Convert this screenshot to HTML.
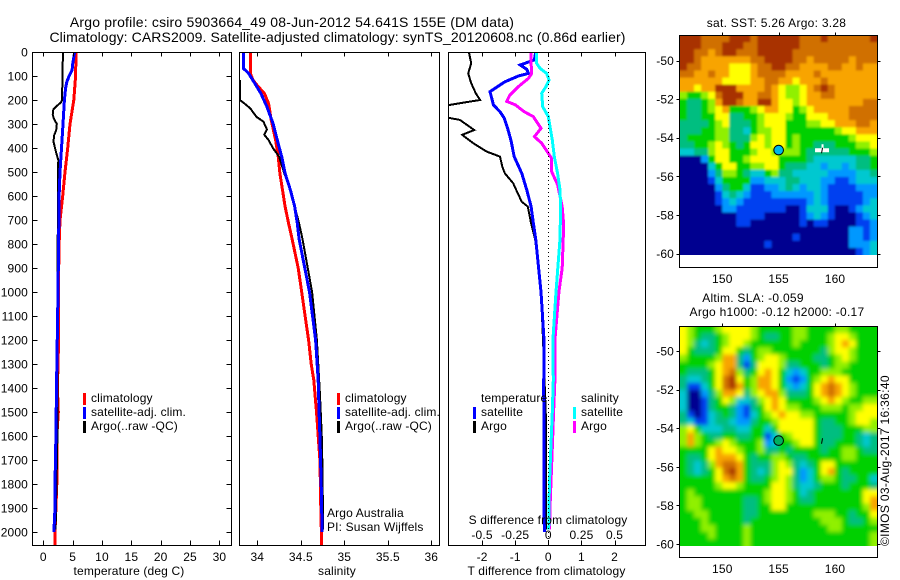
<!DOCTYPE html>
<html>
<head>
<meta charset="utf-8">
<title>Argo profile</title>
<style>
html,body{margin:0;padding:0;background:#fff;}
svg{display:block;}
text{font-family:"Liberation Sans",sans-serif;font-size:12px;fill:#000;letter-spacing:0.15px;}
</style>
</head>
<body>
<svg id="chart" width="900" height="580" viewBox="0 0 900 580" xmlns="http://www.w3.org/2000/svg">
<defs>
<filter id="soft" x="-5%" y="-5%" width="110%" height="110%"><feGaussianBlur stdDeviation="2"/></filter>
<filter id="soft-sst" x="-5%" y="-5%" width="110%" height="110%"><feGaussianBlur stdDeviation="1"/></filter>
<clipPath id="clip-sla"><rect x="680" y="326" width="197" height="220"/></clipPath>
<clipPath id="clip-sst"><rect x="680" y="35" width="197" height="220"/></clipPath>
<clipPath id="clip-t"><rect x="33" y="52" width="198" height="493"/></clipPath>
<clipPath id="clip-s"><rect x="240" y="52" width="199" height="493"/></clipPath>
<clipPath id="clip-d"><rect x="449" y="52" width="196" height="493"/></clipPath>
</defs>
<text x="292" y="27" text-anchor="middle" style="font-size:14px;letter-spacing:0.19px">Argo profile: csiro 5903664_49 08-Jun-2012 54.641S 155E (DM data)</text>
<text x="337.5" y="42" text-anchor="middle" style="font-size:14px;letter-spacing:0.1px">Climatology: CARS2009. Satellite-adjusted climatology: synTS_20120608.nc (0.86d earlier)</text>
<g id="root"></g>
</svg>
<script>
// ---- profile data ----
const tempClimDepth = [0,100,200,300,400,500,600,700,800,1000,1200,1400,1500,1600,1700,1800,1900,2000,2054];
const tempClim = [5.57,5.5,5.2,4.55,4.15,3.7,3.3,2.85,2.7,2.55,2.6,2.4,2.55,2.3,2.3,2.3,2.15,2.0,2.0];
const tempSatDepth = [0,50,75,100,125,150,200,300,400,500,600,800,1000,1400,1600,1800,1900,2000];
const tempSat = [5.35,5.0,4.9,4.4,4.0,3.8,3.6,3.35,3.1,2.85,2.7,2.6,2.5,2.25,2.15,2.0,2.0,1.8];
const tempArgoDepth = [0,50,100,200,210,225,240,260,275,300,325,350,375,400,425,450,500,600,800,1000,1600,1990];
const tempArgo = [3.35,3.3,3.25,3.2,3.0,2.3,1.7,1.6,1.75,2.3,2.2,1.8,1.75,2.0,2.25,2.55,2.5,2.5,2.45,2.4,2.4,2.1];

const salClimDepth = [0,89,117,144,172,214,283,367,436,506,575,644,714,779,900,1000,1100,1200,1300,1367,1500,1600,1700,1800,1900,2054];
const salClim = [33.92,33.92,33.95,34.01,34.08,34.13,34.16,34.21,34.24,34.26,34.29,34.32,34.36,34.40,34.47,34.51,34.55,34.59,34.62,34.65,34.68,34.70,34.72,34.725,34.73,34.74];
const salSatDepth = [0,60,68,89,130,172,228,297,367,436,506,575,644,714,779,1000,1200,1367,1500,1600,1800,2000];
const salSat = [33.84,33.84,33.84,33.90,33.97,34.04,34.11,34.18,34.23,34.28,34.32,34.38,34.43,34.46,34.48,34.60,34.67,34.70,34.71,34.72,34.735,34.745];
const salArgoDepth = [117,200,214,235,270,290,322,345,367,401,436,506,575,644,714,779,1000,1200,1423,1590,1757,1990];
const salArgo = [33.8,33.8,33.85,33.92,33.99,34.07,34.11,34.08,34.13,34.18,34.25,34.31,34.38,34.43,34.48,34.52,34.63,34.685,34.72,34.74,34.75,34.755];

const dTArgoDepth = [0,47,89,130,172,200,210,228,272,283,325,345,380,415,436,478,506,547,589,624,644,714,779,1000,1200,1533,1700,1990];
const dTArgo = [-2.4,-2.33,-2.42,-2.33,-2.19,-2.06,-2.52,-3.3,-3.1,-2.67,-2.24,-2.6,-2.27,-1.86,-1.46,-1.39,-1.31,-1.06,-0.92,-0.8,-0.62,-0.52,-0.4,-0.22,-0.16,-0.07,-0.07,-0.07];
const dTSatDepth = [0,33,54,72,89,100,124,165,220,249,276,318,367,436,506,575,644,714,779,1000,1200,1400,1600,1800,2000];
const dTSat = [-0.38,-0.42,-0.85,-0.65,-0.6,-0.9,-1.31,-1.76,-1.66,-1.46,-1.33,-1.23,-1.13,-1.03,-0.8,-0.65,-0.52,-0.45,-0.38,-0.22,-0.13,-0.14,-0.13,-0.13,-0.12];
const dSArgoDepth = [0,47,89,110,144,179,206,220,249,269,318,353,380,422,443,498,553,644,700,768,900,1000,1200,1367,1500,1650,1800,1900,1990];
const dSArgo = [-0.13,-0.13,-0.125,-0.15,-0.226,-0.29,-0.314,-0.25,-0.18,-0.113,-0.055,-0.105,-0.05,0,0.025,0.025,0.07,0.105,0.113,0.113,0.105,0.08,0.05,0.05,0.04,0.03,0.02,0.013,0.01];
const dSSatDepth = [0,47,68,89,117,144,172,228,269,367,436,506,575,644,779,1000,1200,1367,1500,1667,1800,1990];
const dSSat = [-0.088,-0.088,-0.063,-0.012,0.005,-0.017,-0.05,-0.042,0,0.03,0.045,0.07,0.088,0.093,0.088,0.058,0.035,0.038,0.03,0.018,0.008,0.003];

// ---- tick labels ----
const depthTicks = [0,100,200,300,400,500,600,700,800,900,1000,1100,1200,1300,1400,1500,1600,1700,1800,1900,2000];
const tempTicks = [0,5,10,15,20,25,30];
const salTicks = [34,34.5,35,35.5,36];
const dTTicks = [-2,-1,0,1,2];
const dSTicks = [-0.5,-0.25,0,0.25,0.5];
const lonTicks = [150,155,160];
const latTicks = [-50,-52,-54,-56,-58,-60];

// ---- map data: colour level per cell (0 = coldest/lowest ... 10 = warmest/highest) ----
const mapPalette = ['#000090','#0040f0','#0098ff','#00c8d0','#00be80','#00d000','#90f000','#ffff00','#f8a400','#d07000','#a83000'];
const sstRows = [
[10,10,10,9,9,9,9,10,10,10,9,10,10,10,10,10,10,9,9,9,10,9,9,9,9,9,9,10],
[10,10,10,9,9,9,10,10,10,9,9,10,10,10,10,10,10,9,9,9,9,9,9,9,9,9,9,9],
[10,10,9,9,8,9,10,10,9,9,9,10,10,10,10,10,9,9,9,9,9,9,9,9,9,9,9,9],
[10,10,9,8,8,8,8,8,8,8,9,9,10,10,10,10,9,9,8,9,9,9,9,9,8,9,9,9],
[10,9,9,8,8,8,8,7,7,7,8,9,9,10,10,9,9,8,8,8,8,9,9,8,8,9,8,8],
[9,9,8,8,9,8,8,7,7,7,8,9,9,9,9,8,8,8,8,9,8,8,8,8,8,8,8,8],
[8,8,8,8,8,8,7,7,7,7,8,8,9,9,8,8,7,8,8,8,9,8,8,8,8,8,8,8],
[8,8,7,8,8,10,10,10,8,8,8,8,9,8,7,6,6,7,8,9,10,9,8,8,8,8,8,8],
[6,5,5,6,7,9,10,10,10,8,8,9,9,8,7,6,6,7,8,8,9,9,8,8,8,8,8,8],
[5,4,4,5,6,8,10,10,9,8,8,10,10,8,7,7,6,7,8,8,8,8,8,8,8,8,9,9],
[5,4,4,5,6,7,8,5,5,5,6,7,8,8,7,7,5,6,7,8,8,8,8,8,9,9,9,9],
[5,4,4,5,5,7,7,4,4,5,5,6,7,7,7,6,5,5,7,7,7,8,8,8,9,9,9,9],
[4,4,4,4,5,6,7,4,4,4,5,6,7,7,7,5,5,5,6,6,7,7,8,8,8,9,9,8],
[4,4,4,5,5,6,6,4,4,3,5,6,6,7,7,5,5,5,5,5,5,5,6,7,7,8,8,8],
[4,5,5,5,5,6,6,4,4,4,6,7,6,7,7,5,6,5,5,5,5,5,5,5,6,7,7,7],
[4,4,5,5,6,7,6,5,4,5,7,7,6,7,7,5,6,5,5,4,4,4,5,5,5,6,6,7],
[3,3,4,4,6,7,7,5,5,5,6,7,7,6,6,6,6,5,4,4,4,4,4,4,5,5,5,6],
[0,0,0,2,5,7,7,5,5,6,7,7,7,7,5,5,5,5,4,3,3,3,3,3,3,4,4,5],
[0,0,0,0,3,5,7,7,5,5,6,6,7,7,5,4,4,4,3,3,2,3,3,2,3,4,4,5],
[0,0,0,0,2,4,6,6,5,4,3,3,5,6,4,4,3,3,3,3,3,2,2,2,2,3,3,4],
[0,0,0,0,1,3,5,5,5,5,2,2,3,3,3,4,4,3,3,3,2,2,1,1,2,3,3,3],
[0,0,0,0,0,2,4,5,5,3,1,1,2,2,3,4,3,2,3,3,2,1,1,1,1,2,2,2],
[0,0,0,0,0,1,3,4,3,2,1,1,1,2,2,2,2,2,2,3,2,1,1,1,1,1,2,2],
[0,0,0,0,0,1,2,3,2,1,1,1,1,1,1,1,1,1,2,3,2,1,1,1,1,1,2,3],
[0,0,0,0,0,0,2,2,1,1,1,1,1,1,1,0,0,1,3,3,3,1,0,0,1,2,3,3],
[0,0,0,0,0,0,0,0,1,1,1,1,0,0,0,0,0,1,2,3,2,1,0,0,0,1,2,3],
[0,0,0,0,0,0,0,0,1,1,0,0,0,0,0,0,0,1,0,1,1,0,0,0,0,1,1,2],
[0,0,0,0,0,0,0,0,0,0,0,0,0,0,0,0,0,0,0,0,0,0,0,0,2,2,1,2],
[0,0,0,0,0,0,0,0,0,0,0,0,0,0,0,0,1,0,0,0,0,0,0,0,2,2,1,2],
[0,0,0,0,0,0,0,0,0,0,0,0,1,0,0,0,0,0,0,0,0,0,0,0,2,2,2,3],
[0,0,0,0,0,0,0,0,0,0,0,0,0,0,0,0,0,0,0,0,0,0,0,0,0,1,2,3]
];
const slaRows = [
[7,6,5,5,5,6,7,7,7,7,6,5,5,5,5,5,6,6,5,5,5,5,6,6,5,5,5,5],
[7,6,5,4,4,5,6,7,7,7,6,5,4,4,5,5,6,6,5,5,5,6,7,7,6,5,5,5],
[7,6,4,3,4,5,6,7,7,6,5,5,5,5,5,5,6,5,5,5,5,6,7,8,7,5,5,5],
[7,5,4,4,4,5,7,7,5,4,5,6,6,5,5,5,5,5,5,5,4,6,7,7,6,5,5,5],
[6,5,5,5,5,6,8,8,4,2,5,6,7,7,6,5,5,5,5,4,4,5,6,7,6,5,5,5],
[5,5,5,5,6,7,8,8,4,1,4,7,7,7,6,4,4,5,5,5,4,5,6,6,5,5,5,5],
[5,4,4,4,5,7,8,9,6,4,5,7,8,7,5,3,2,3,5,5,6,6,6,5,5,5,5,5],
[4,3,3,4,5,7,9,10,7,5,6,8,8,7,5,2,1,2,5,6,7,8,7,7,5,5,5,5],
[4,1,1,3,5,7,9,10,8,5,6,8,8,7,5,3,2,3,5,7,8,9,8,7,6,5,5,5],
[3,0,0,2,4,6,8,8,7,4,6,7,8,8,6,4,4,4,5,7,8,9,8,7,6,5,5,5],
[3,0,0,1,4,5,7,6,3,3,4,6,7,8,7,5,5,5,5,6,7,8,7,6,5,5,6,6],
[3,0,0,1,4,5,5,4,2,1,4,5,7,8,7,6,6,5,5,5,6,6,6,5,6,6,7,7],
[4,1,0,1,3,4,5,4,2,1,3,5,6,7,8,7,7,6,6,5,5,5,5,5,6,7,7,7],
[4,3,1,1,3,4,4,3,2,2,4,5,5,6,7,7,7,7,7,5,4,4,5,5,6,7,7,6],
[6,7,5,3,3,3,4,4,3,3,5,5,3,5,7,7,7,7,7,5,4,4,4,5,5,5,6,6],
[6,8,6,5,4,4,5,5,4,4,5,5,1,3,5,6,7,7,7,5,4,4,4,5,5,4,3,4],
[6,8,6,5,5,6,7,6,5,5,5,6,2,3,5,5,6,7,7,5,4,4,5,5,5,4,3,4],
[5,5,5,5,7,8,7,7,6,5,5,6,4,4,5,4,5,5,5,5,4,5,5,6,6,5,4,4],
[5,4,4,5,7,8,8,8,7,5,4,5,5,6,6,5,4,4,5,5,5,5,5,6,6,5,5,5],
[5,4,3,4,6,8,9,9,8,5,4,4,4,6,7,6,4,3,4,5,7,7,5,5,5,5,5,5],
[5,4,3,4,5,7,9,10,8,5,4,3,4,6,7,7,4,2,3,5,7,8,5,4,5,5,5,5],
[5,5,5,5,5,7,8,9,8,5,4,4,5,6,7,6,4,2,3,5,6,6,5,4,4,5,5,3],
[5,5,5,5,5,6,7,7,6,5,5,5,5,7,7,6,4,3,3,4,5,5,5,4,5,5,5,4],
[5,6,5,5,5,5,5,5,5,5,5,5,6,7,7,6,5,3,4,5,5,5,5,5,5,5,7,7],
[5,6,6,5,5,5,5,5,5,4,4,5,6,7,7,6,5,4,4,5,5,5,5,5,5,5,7,8],
[5,6,6,5,5,5,5,5,5,4,4,5,5,7,7,5,5,5,5,5,5,5,5,5,5,5,6,8],
[5,5,6,6,5,5,5,5,5,4,4,5,5,5,5,5,5,5,5,6,6,6,5,5,4,5,5,7],
[5,5,5,6,5,5,5,5,5,4,5,5,5,5,5,5,5,5,5,5,6,6,6,5,4,4,5,6],
[5,5,5,6,6,5,5,5,5,6,5,5,5,5,5,5,5,5,5,5,5,6,6,5,5,5,5,5],
[5,5,5,5,6,5,5,5,5,6,5,5,5,5,5,5,5,5,5,5,5,5,5,5,5,5,5,6],
[5,5,5,5,5,5,5,5,5,6,5,5,5,5,5,5,5,5,5,5,5,5,5,5,5,5,5,6]
];
const floatLon = 155.0;
const floatLat = -54.641;
const trackLon = 158.85;
const trackLat = -54.65;

// ---- helpers ----
const NS = 'http://www.w3.org/2000/svg';
const root = document.getElementById('root');
function mk(tag, attrs, parent) {
  const el = document.createElementNS(NS, tag);
  for (const k in attrs) el.setAttribute(k, attrs[k]);
  (parent || root).appendChild(el);
  return el;
}
function label(x, y, str, anchor, name) {
  const el = mk('text', {x: x, y: y, 'text-anchor': anchor || 'start'});
  el.textContent = str;
  
  
  return el;
}
const yDepth = d => 52 + d * 0.24;
const xTemp = v => 43.3 + v * 5.87;
const xSal = v => 257.3 + (v - 34) * 87;
const xDT = v => 548.3 + v * 33.1;
const xDS = v => 548.3 + v * 132.5;

function line(xs, ds, xf, color, w, clip, name) {
  const pts = xs.map((v, i) => xf(v).toFixed(1) + ',' + yDepth(ds[i]).toFixed(1)).join(' ');
  const el = mk('polyline', {points: pts, fill: 'none', stroke: color, 'stroke-width': w, 'clip-path': 'url(#' + clip + ')', 'shape-rendering': 'crispEdges'});
  
  
}
function frame(x0, y0, x1, y1, name) {
  const el = mk('rect', {x: x0, y: y0, width: x1 - x0, height: y1 - y0, fill: 'none', stroke: '#000', 'stroke-width': 1, 'shape-rendering': 'crispEdges'});
  
  
}
function tick(x1, y1, x2, y2) {
  const el = mk('line', {x1: x1, y1: y1, x2: x2, y2: y2, stroke: '#000', 'stroke-width': 1, 'shape-rendering': 'crispEdges'});
  
  
}
function swatch(x, y, color, name) {
  const el = mk('rect', {x: x, y: y, width: 3, height: 12, fill: color});
  
  
}
function xTicksFor(ticks, xf, top, bottom) {
  ticks.forEach(t => {
    const x = Math.round(xf(t)) + 0.5;
    tick(x, top, x, top + 4);
    tick(x, bottom, x, bottom - 5);
  });
}

// ---- panel 1: temperature ----
line(tempClim, tempClimDepth, xTemp, '#ff0000', 3, 'clip-t', 'temperature-climatology-line');
line(tempArgo, tempArgoDepth, xTemp, '#000000', 2, 'clip-t', 'temperature-argo-line');
line(tempSat, tempSatDepth, xTemp, '#0000ff', 3, 'clip-t', 'temperature-satellite-line');
frame(32.5, 52.5, 231.5, 545.5, 'temperature-axes-frame');
xTicksFor(tempTicks, xTemp, 52.5, 545.5);
tempTicks.forEach(t => {
  label(xTemp(t), 561, String(t), 'middle', 'temperature-tick-label');
});
depthTicks.forEach(d => {
  const y = Math.round(yDepth(d)) + 0.5;
  tick(32.5, y, 37.5, y);
  tick(231.5, y, 226.5, y);
  label(28, yDepth(d) + 4.5, String(d), 'end', 'depth-tick-label');
});
label(129, 575, 'temperature (deg C)', 'middle', 'temperature-axis-title');
swatch(83, 393, '#ff0000', 'legend-swatch-climatology');
swatch(83, 407, '#0000ff', 'legend-swatch-satellite');
swatch(83, 421, '#000000', 'legend-swatch-argo');
label(91, 402, 'climatology', 'start', 'legend-climatology');
label(91, 416, 'satellite-adj. clim.', 'start', 'legend-satellite');
label(91, 430, 'Argo(..raw -QC)', 'start', 'legend-argo');

// ---- panel 2: salinity ----
line(salClim, salClimDepth, xSal, '#ff0000', 3, 'clip-s', 'salinity-climatology-line');
line(salArgo, salArgoDepth, xSal, '#000000', 2, 'clip-s', 'salinity-argo-line');
line(salSat, salSatDepth, xSal, '#0000ff', 3, 'clip-s', 'salinity-satellite-line');
frame(239.5, 52.5, 439.5, 545.5, 'salinity-axes-frame');
xTicksFor(salTicks, xSal, 52.5, 545.5);
salTicks.forEach(t => {
  label(xSal(t), 561, String(t), 'middle', 'salinity-tick-label');
});
label(337, 575, 'salinity', 'middle', 'salinity-axis-title');
swatch(337, 393, '#ff0000', 'legend-swatch-climatology');
swatch(337, 407, '#0000ff', 'legend-swatch-satellite');
swatch(337, 421, '#000000', 'legend-swatch-argo');
label(345, 402, 'climatology', 'start', 'legend-climatology');
label(345, 416, 'satellite-adj. clim.', 'start', 'legend-satellite');
label(345, 430, 'Argo(..raw -QC)', 'start', 'legend-argo');
label(327, 517, 'Argo Australia', 'start', 'credit-argo-australia');
label(327, 531, 'PI: Susan Wijffels', 'start', 'credit-pi');

// ---- panel 3: differences ----
line(dTArgo, dTArgoDepth, xDT, '#000000', 2, 'clip-d', 'tdiff-argo-line');
line(dTSat, dTSatDepth, xDT, '#0000ff', 3, 'clip-d', 'tdiff-satellite-line');
line(dSArgo, dSArgoDepth, xDS, '#ff00ff', 3, 'clip-d', 'sdiff-argo-line');
line(dSSat, dSSatDepth, xDS, '#00ffff', 3, 'clip-d', 'sdiff-satellite-line');
const zeroLine = mk('line', {x1: 548.5, y1: 52, x2: 548.5, y2: 545, stroke: '#000', 'stroke-width': 1, 'stroke-dasharray': '1 3', 'shape-rendering': 'crispEdges'});


frame(448.5, 52.5, 645.5, 545.5, 'difference-axes-frame');
xTicksFor(dTTicks, xDT, 52.5, 545.5);
dTTicks.forEach(t => {
  label(xDT(t), 561, String(t), 'middle', 'tdiff-tick-label');
});
dSTicks.forEach(t => {
  label(xDS(t), 539, String(t), 'middle', 'sdiff-tick-label');
});
label(546.5, 575, 'T difference from climatology', 'middle', 'tdiff-axis-title');
label(548, 524, 'S difference from climatology', 'middle', 'sdiff-axis-title');
label(481, 402, 'temperature', 'start', 'legend-temperature-header');
label(481, 416, 'satellite', 'start', 'legend-t-satellite');
label(481, 430, 'Argo', 'start', 'legend-t-argo');
label(581, 402, 'salinity', 'start', 'legend-salinity-header');
label(581, 416, 'satellite', 'start', 'legend-s-satellite');
label(581, 430, 'Argo', 'start', 'legend-s-argo');
swatch(473, 407, '#0000ff', 'legend-swatch-t-satellite');
swatch(473, 421, '#000000', 'legend-swatch-t-argo');
swatch(573, 407, '#00ffff', 'legend-swatch-s-satellite');
swatch(573, 421, '#ff00ff', 'legend-swatch-s-argo');

// ---- maps ----
function drawMap(rows, opts) {
  const mapX0 = 680, mapW = 197, pad = 10;
  const nr = rows.length, nc = rows[0].length;
  const cw = mapW / nc, ch = opts.h / nr;
  const parent = mk('g', {'clip-path': 'url(#' + opts.clip + ')'});
  const inner = mk('g', {filter: 'url(#' + opts.filter + ')'}, parent);
  rows.forEach((row, r) => {
    row.forEach((v, c) => {
      // edge cells run past the clip so the blur does not fade into white
      const x0 = mapX0 + c * cw - (c === 0 ? pad : 0);
      const x1 = mapX0 + (c + 1) * cw + (c === nc - 1 ? pad : 0.4);
      const y0 = opts.top + r * ch - (r === 0 ? pad : 0);
      const y1 = opts.top + (r + 1) * ch + (r === nr - 1 ? pad : 0.4);
      const cell = mk('rect', {x: x0.toFixed(2), y: y0.toFixed(2), width: (x1 - x0).toFixed(2), height: (y1 - y0).toFixed(2), fill: mapPalette[v]}, inner);
      
      
    });
  });
  const xLon = lon => 722.3 + (lon - 150) * 11.27;
  const yLat = lat => opts.y50 + (-50 - lat) * 19.3;
  frame(679.5, opts.top + 0.5, 877.5, opts.bottom + 0.5, opts.name + '-frame');
  lonTicks.forEach(t => {
    const x = Math.round(xLon(t)) + 0.5;
    tick(x, opts.top + 0.5, x, opts.top - 2.5);
    label(xLon(t), opts.bottom + 16, String(t), 'middle', opts.name + '-lon-label');
  });
  latTicks.forEach(t => {
    const y = Math.round(yLat(t)) + 0.5;
    tick(679.5, y, 676.5, y);
    tick(877.5, y, 880.5, y);
    label(674, yLat(t) + 4.5, String(t), 'end', opts.name + '-lat-label');
  });
  const marker = mk('circle', {cx: xLon(floatLon), cy: yLat(floatLat), r: 4.8, fill: opts.marker, stroke: '#000', 'stroke-width': 1});
  
  
  if (opts.cross) {
    const c1 = mk('rect', {x: xLon(trackLon) - 7, y: yLat(trackLat) - 2, width: 14, height: 4, fill: '#fff'});
    
    
    const c2 = mk('rect', {x: xLon(trackLon) - 0.5, y: yLat(trackLat) - 6, width: 2, height: 6, fill: '#fff'});
    
    
  }
  const trk = mk('line', {x1: xLon(trackLon) + 0.5, y1: yLat(trackLat) - 2.5, x2: xLon(trackLon) - 0.5, y2: yLat(trackLat) + 3, stroke: '#000', 'stroke-width': 1});
  
  
}
drawMap(sstRows, {top: 35, h: 220, bottom: 267, y50: 60.5, name: 'sst-map', marker: '#00b8e8', clip: 'clip-sst', filter: 'soft-sst', cross: true});
drawMap(slaRows, {top: 326, h: 220, bottom: 557, y50: 351, name: 'sla-map', marker: '#00b060', clip: 'clip-sla', filter: 'soft', cross: false});
const sstTitle = label(776.5, 27, 'sat. SST: 5.26 Argo: 3.28', 'middle', 'sst-map-title');
sstTitle.style.letterSpacing = '0.27px';
const slaTitle1 = label(753, 302, 'Altim. SLA: -0.059', 'middle', 'sla-map-title-line-1');
slaTitle1.style.letterSpacing = '0.27px';
const slaTitle2 = label(777, 316, 'Argo h1000: -0.12 h2000: -0.17', 'middle', 'sla-map-title-line-2');
slaTitle2.style.letterSpacing = '0.27px';
const stamp = label(0, 0, '©IMOS 03-Aug-2017 16:36:40', 'start', 'imos-timestamp');
stamp.style.letterSpacing = '0.33px';
stamp.setAttribute('transform', 'translate(889,546) rotate(-90)');
</script>
</body>
</html>
